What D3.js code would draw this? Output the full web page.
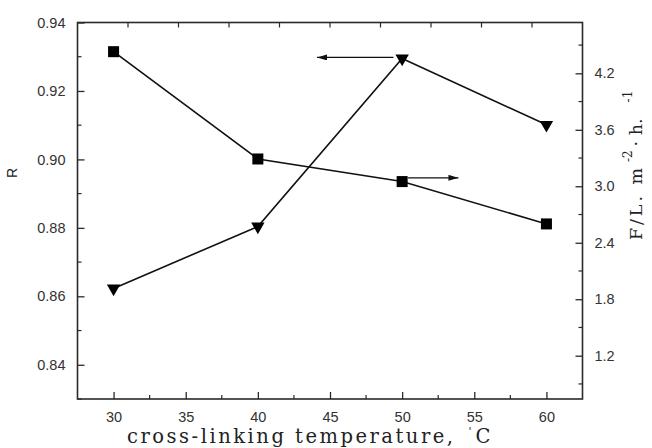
<!DOCTYPE html>
<html>
<head>
<meta charset="utf-8">
<title>R and F vs cross-linking temperature</title>
<style>
  body { margin: 0; background: #fff; }
  svg { display: block; }
</style>
</head>
<body>
<script src="https://cdn.jsdelivr.net/npm/d3@7/dist/d3.min.js"></script>
<script>
// data
const temps = [30, 40, 50, 60];
const rValues = [0.8623, 0.8804, 0.9295, 0.9101];   // left axis, triangles
const fValues = [4.43, 3.29, 3.05, 2.60];           // right axis, squares

const xTicks = [30, 35, 40, 45, 50, 55, 60];
const xMinor = [32.5, 37.5, 42.5, 47.5, 52.5, 57.5];
const topTicks = [31, 34.5, 38, 41.5, 45, 48.5, 52, 55.5, 59];
const rTicks = [0.84, 0.86, 0.88, 0.90, 0.92, 0.94];
const rMinor = [0.83, 0.85, 0.87, 0.89, 0.91, 0.93];
const fTicks = [1.2, 1.8, 2.4, 3.0, 3.6, 4.2];
const fMinor = [0.9, 1.5, 2.1, 2.7, 3.3, 3.9, 4.5];

const w = 652, h = 448;
const pLeft = 77.5, pRight = 582.5, pTop = 22.5, pBottom = 399;
const ink = "#2a2a2a";

const svg = d3.select("body").append("svg")
  .attr("width", w).attr("height", h);

const x = d3.scaleLinear().domain([27.5, 62.5]).range([pLeft, pRight]);
const yR = d3.scaleLinear().domain([0.83, 0.94]).range([pBottom, pTop]);
const yF = d3.scaleLinear().domain([0.74, 4.74]).range([pBottom, pTop]);

// axes, ticks pointing inwards
const xAxis = d3.axisBottom(x).tickValues(xTicks).tickSize(-7).tickPadding(13).tickFormat(d3.format("d"));
const rAxis = d3.axisLeft(yR).tickValues(rTicks).tickSize(-7).tickPadding(12).tickFormat(d3.format(".2f"));
const fAxis = d3.axisRight(yF).tickValues(fTicks).tickSize(-7).tickPadding(12).tickFormat(d3.format(".1f"));

function styleAxis(g) {
  g.select(".domain").remove();
  g.selectAll("line").attr("stroke", ink).attr("stroke-width", 1.3);
  g.selectAll("text").attr("fill", "#333").style("font-family", "Liberation Sans, Arial, sans-serif").style("font-size", "14.5px");
}

svg.append("g").attr("transform", `translate(0,${pBottom})`).call(xAxis).call(styleAxis);
svg.append("g").attr("transform", `translate(${pLeft},0)`).call(rAxis).call(styleAxis);
svg.append("g").attr("transform", `translate(${pRight},0)`).call(fAxis).call(styleAxis);

// minor ticks
const minor = svg.append("g").attr("stroke", ink).attr("stroke-width", 1.2);
minor.selectAll(".xm").data(xMinor).join("line")
  .attr("x1", d => x(d)).attr("x2", d => x(d)).attr("y1", pBottom).attr("y2", pBottom - 4);
minor.selectAll(".tm").data(topTicks).join("line")
  .attr("x1", d => x(d)).attr("x2", d => x(d)).attr("y1", pTop).attr("y2", pTop + 5);
minor.selectAll(".rm").data(rMinor).join("line")
  .attr("x1", pLeft).attr("x2", pLeft + 4).attr("y1", d => yR(d)).attr("y2", d => yR(d));
minor.selectAll(".fm").data(fMinor).join("line")
  .attr("x1", pRight).attr("x2", pRight - 4).attr("y1", d => yF(d)).attr("y2", d => yF(d));

// frame
svg.append("rect")
  .attr("x", pLeft).attr("y", pTop).attr("width", pRight - pLeft).attr("height", pBottom - pTop)
  .attr("fill", "none").attr("stroke", ink).attr("stroke-width", 1.6);

// series lines
const lineR = d3.line().x((d, i) => x(temps[i])).y(d => yR(d));
const lineF = d3.line().x((d, i) => x(temps[i])).y(d => yF(d));

svg.append("path").attr("d", lineR(rValues)).attr("fill", "none").attr("stroke", "#111").attr("stroke-width", 1.6);
svg.append("path").attr("d", lineF(fValues)).attr("fill", "none").attr("stroke", "#111").attr("stroke-width", 1.6);

// markers
svg.selectAll(".tri").data(rValues).join("path")
  .attr("d", d3.symbol(d3.symbolTriangle, 78))
  .attr("transform", (d, i) => `translate(${x(temps[i])},${yR(d)}) rotate(180)`)
  .attr("fill", "#000");

svg.selectAll(".sq").data(fValues).join("rect")
  .attr("x", (d, i) => x(temps[i]) - 5.5).attr("y", d => yF(d) - 5.5)
  .attr("width", 11).attr("height", 11).attr("fill", "#000");

// arrows telling which axis belongs to which curve
svg.append("defs").append("marker")
  .attr("id", "head").attr("viewBox", "0 0 10 6").attr("refX", 10).attr("refY", 3)
  .attr("markerWidth", 10).attr("markerHeight", 6).attr("markerUnits", "userSpaceOnUse")
  .attr("orient", "auto")
  .append("path").attr("d", "M0,0L10,3L0,6Z").attr("fill", "#111");

svg.append("line")
  .attr("x1", x(49.4)).attr("x2", x(44.1)).attr("y1", yR(0.9298)).attr("y2", yR(0.9298))
  .attr("stroke", "#111").attr("stroke-width", 1.2).attr("marker-end", "url(#head)");
svg.append("line")
  .attr("x1", x(50.4)).attr("x2", x(53.9)).attr("y1", yF(3.09)).attr("y2", yF(3.09))
  .attr("stroke", "#111").attr("stroke-width", 1.2).attr("marker-end", "url(#head)");

// axis titles
svg.append("text")
  .attr("transform", "translate(17,173) rotate(-90)")
  .attr("text-anchor", "middle")
  .style("font-family", "Liberation Sans, Arial, sans-serif").style("font-size", "14px")
  .attr("fill", "#222").text("R");

const fTitle = svg.append("text")
  .attr("transform", "translate(642,240) rotate(-90)")
  .style("font-family", "DejaVu Serif, serif").style("font-size", "17.5px")
  .attr("fill", "#222");
fTitle.append("tspan").attr("textLength", 72).attr("lengthAdjust", "spacing").text("F/L. m");
fTitle.append("tspan").attr("dx", 3).attr("dy", -10).style("font-size", "12px").text("-2");
fTitle.append("tspan").attr("dy", 10).attr("dx", 4).text("· h.");
fTitle.append("tspan").attr("dx", 16).attr("dy", -10).style("font-size", "12px").text("-1");

const xTitle = svg.append("text")
  .attr("x", 127).attr("y", 443)
  .style("font-family", "DejaVu Serif, serif").style("font-size", "19.5px")
  .attr("fill", "#222");
xTitle.append("tspan").attr("textLength", 326).attr("lengthAdjust", "spacing").text("cross-linking temperature,");
xTitle.append("tspan").attr("dx", 13).attr("dy", -8).style("font-size", "11px").text("'");
xTitle.append("tspan").attr("dx", 4).attr("dy", 8).text("C");
</script>
</body>
</html>
